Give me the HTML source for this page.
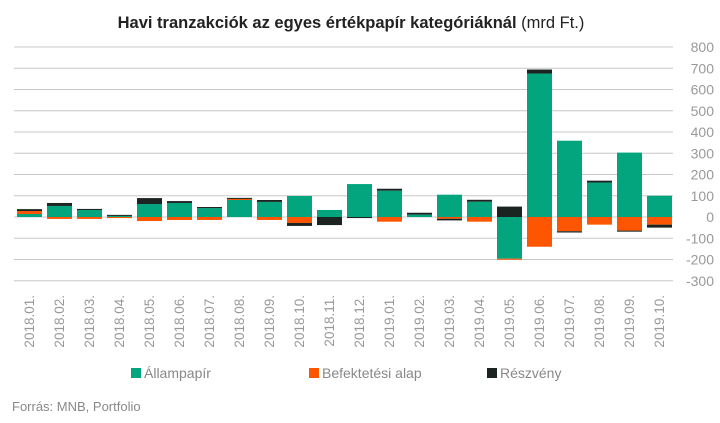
<!DOCTYPE html>
<html><head><meta charset="utf-8"><style>
body{margin:0;background:#fff;font-family:"Liberation Sans",Arial,sans-serif}
svg text{font-family:"Liberation Sans",Arial,sans-serif}
</style></head><body>
<svg width="720" height="418" viewBox="0 0 720 418" xmlns="http://www.w3.org/2000/svg">
<text x="351" y="28" text-anchor="middle" font-size="16.5" fill="#222"><tspan font-weight="bold">Havi tranzakciók az egyes értékpapír kategóriáknál</tspan> (mrd Ft.)</text>
<g id="grid"></g>
<g id="bars"></g>
<g id="xlabels"></g>
<g>
<rect x="131" y="368" width="10" height="10" fill="#03a57f"/>
<text x="144" y="378" font-size="14" fill="#888">Állampapír</text>
<rect x="309" y="368" width="10" height="10" fill="#fe5500"/>
<text x="322" y="378" font-size="14" fill="#888">Befektetési alap</text>
<rect x="487" y="368" width="10" height="10" fill="#1b2421"/>
<text x="500" y="378" font-size="14" fill="#888">Részvény</text>
</g>
<text x="12" y="411" font-size="13" fill="#888">Forrás: MNB, Portfolio</text>
</svg>
<script>
const categories=["2018.01.","2018.02.","2018.03.","2018.04.","2018.05.","2018.06.","2018.07.","2018.08.","2018.09.","2018.10.","2018.11.","2018.12.","2019.01.","2019.02.","2019.03.","2019.04.","2019.05.","2019.06.","2019.07.","2019.08.","2019.09.","2019.10."];
const allampapir=[14,52,33,5,61,66,42,80,71,99,33,155,124,11,105,72,-196,675,359,162,303,100];
const befektetesi=[14,-9,-9,-5,-19,-14,-14,5,-14,-28,0,0,-22,0,-8,-22,-5,-140,-67,-36,-64,-36];
const reszveny=[9,14,5,5,28,9,5,5,9,-14,-38,-5,9,9,-8,9,49,19,-6,9,-5,-14];
const yTicks=[800,700,600,500,400,300,200,100,0,-100,-200,-300];
const NS="http://www.w3.org/2000/svg";
function y(v){return 217-v*0.2125;}
function xc(i){return 29.5+i*30;}
const grid=document.getElementById('grid');
yTicks.forEach(t=>{
  const l=document.createElementNS(NS,'line');
  l.setAttribute('x1',14);l.setAttribute('x2',673);
  l.setAttribute('y1',y(t));l.setAttribute('y2',y(t));
  l.setAttribute('stroke','#c8c8c8');l.setAttribute('stroke-width','1');
  
  
  grid.appendChild(l);
  const tx=document.createElementNS(NS,'text');
  tx.setAttribute('x',714);tx.setAttribute('y',y(t)+5);
  tx.setAttribute('text-anchor','end');tx.setAttribute('font-size','14');tx.setAttribute('fill','#999');
  tx.textContent=t;
  
  
  grid.appendChild(tx);
});
const bars=document.getElementById('bars');
const series=[[allampapir,'#03a57f','allampapir'],[befektetesi,'#fe5500','befektetesi'],[reszveny,'#1b2421','reszveny']];
categories.forEach((c,i)=>{
  let pos=0,neg=0;
  series.forEach(([arr,col,nm])=>{
    const v=arr[i]; if(!v)return;
    let a,b;
    if(v>0){a=pos;b=pos+v;pos=b;}else{a=neg;b=neg+v;neg=b;}
    const r=document.createElementNS(NS,'rect');
    r.setAttribute('x',xc(i)-12.5);r.setAttribute('width',25);
    r.setAttribute('y',Math.min(y(a),y(b)));r.setAttribute('height',Math.abs(y(a)-y(b)));
    r.setAttribute('fill',col);
    
    
    bars.appendChild(r);
  });
  const t=document.createElementNS(NS,'text');
  t.setAttribute('transform','translate('+(xc(i)+4.5)+',295) rotate(-90)');
  t.setAttribute('text-anchor','end');t.setAttribute('font-size','13.5');t.setAttribute('fill','#999');
  t.textContent=c;
  
  
  document.getElementById('xlabels').appendChild(t);
});
</script>
</body></html>
